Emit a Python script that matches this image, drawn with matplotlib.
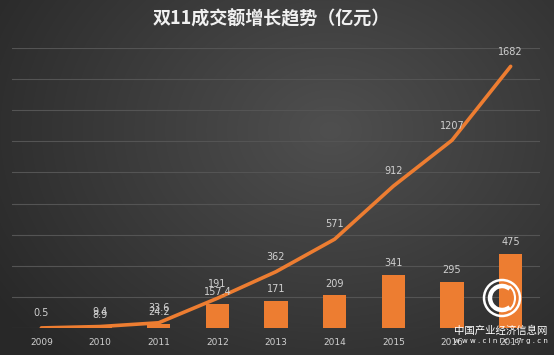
import numpy as np
import matplotlib
matplotlib.use('Agg')
import matplotlib.pyplot as plt
from matplotlib.patches import Circle, Arc

plt.rcParams['font.family'] = ['DejaVu Sans', 'Noto Sans CJK SC']

#----------- Data -----------#
years = ['2009', '2010', '2011', '2012', '2013', '2014', '2015', '2016', '2017']
total = [0.5, 9.4, 33.6, 191, 362, 571, 912, 1207, 1682]
growth = [0.5, 8.9, 24.2, 157.4, 171, 209, 341, 295, 475]
line_labels = ['0.5', '9.4', '33.6', '191', '362', '571', '912', '1207', '1682']
bar_labels = ['', '8.9', '24.2', '157.4', '171', '209', '341', '295', '475']

orange = '#ED7D31'
txt = '#d0d0d0'

#----------- Figure -----------#
fig = plt.figure(figsize=(5.54, 3.55), dpi=100)

#radial grey background
bg = fig.add_axes([0, 0, 1, 1], zorder=-10)
yy, xx = np.mgrid[0:355, 0:554]
r = np.sqrt(((xx - 330) / 420.0) ** 2 + ((yy - 130) / 330.0) ** 2)
shade = np.clip(0.31 - 0.16 * r, 0.16, 0.31)
bg.imshow(np.dstack([shade] * 3), aspect='auto', extent=[0, 1, 0, 1])
bg.set_axis_off()

ax = fig.add_axes([12 / 554, 27 / 355, 528 / 554, 280 / 355])
ax.set_facecolor('none')
x = np.arange(len(years))

ax.bar(x, growth, width=0.4, color=orange, zorder=2)
ax.plot(x, total, color=orange, lw=2.6, solid_capstyle='round', zorder=3)

for i in range(len(years)):
    ax.annotate(line_labels[i], (x[i], total[i]), xytext=(0, 7),
                textcoords='offset points', ha='center', va='bottom',
                color=txt, fontsize=7, zorder=4)
    if bar_labels[i]:
        ax.annotate(bar_labels[i], (x[i], growth[i]), xytext=(0, 5),
                    textcoords='offset points', ha='center', va='bottom',
                    color=txt, fontsize=7, zorder=4)

ax.set_xlim(-0.5, len(years) - 0.5)
ax.set_ylim(0, 1800)
ax.set_yticks(np.arange(0, 2000, 200))
ax.yaxis.grid(True, color='#545454', lw=0.8)
ax.set_axisbelow(True)
ax.set_xticks(x)
ax.set_xticklabels(years, color=txt, fontsize=6.5)
ax.tick_params(axis='x', length=0, pad=7)
ax.tick_params(axis='y', left=False, labelleft=False)
for s in ax.spines.values():
    s.set_visible(False)

fig.text(0.49, 0.947, '双11成交额增长趋势（亿元）', ha='center', va='center',
         color='#f0f0f0', fontsize=13, fontweight='bold',
         family=['Noto Sans CJK SC', 'DejaVu Sans'])

#watermark logo (inches from bottom-left)
tr = fig.dpi_scale_trans
cx, cy = 5.02, 3.55 - 2.98
fig.patches.append(Circle((cx, cy), 0.18, transform=tr, fill=False, ec='white', lw=1.8, zorder=5))
fig.patches.append(Arc((cx, cy), 0.24, 0.24, theta1=50, theta2=310, transform=tr,
                       ec='white', lw=3.2, zorder=5))
fig.patches.append(Arc((cx + 0.03, cy), 0.2, 0.26, theta1=-70, theta2=70, transform=tr,
                       ec='white', lw=1.5, zorder=5))
fig.text(501 / 554, 1 - 331 / 355, '中国产业经济信息网', ha='center', va='center',
         color='white', fontsize=7.5, family=['Noto Sans CJK SC', 'DejaVu Sans'], zorder=5)
fig.text(501 / 554, 1 - 341 / 355, 'w w w . c i n i c . o r g . c n', ha='center',
         va='center', color='white', fontsize=5, zorder=5)

plt.savefig('out.png', dpi=100)
